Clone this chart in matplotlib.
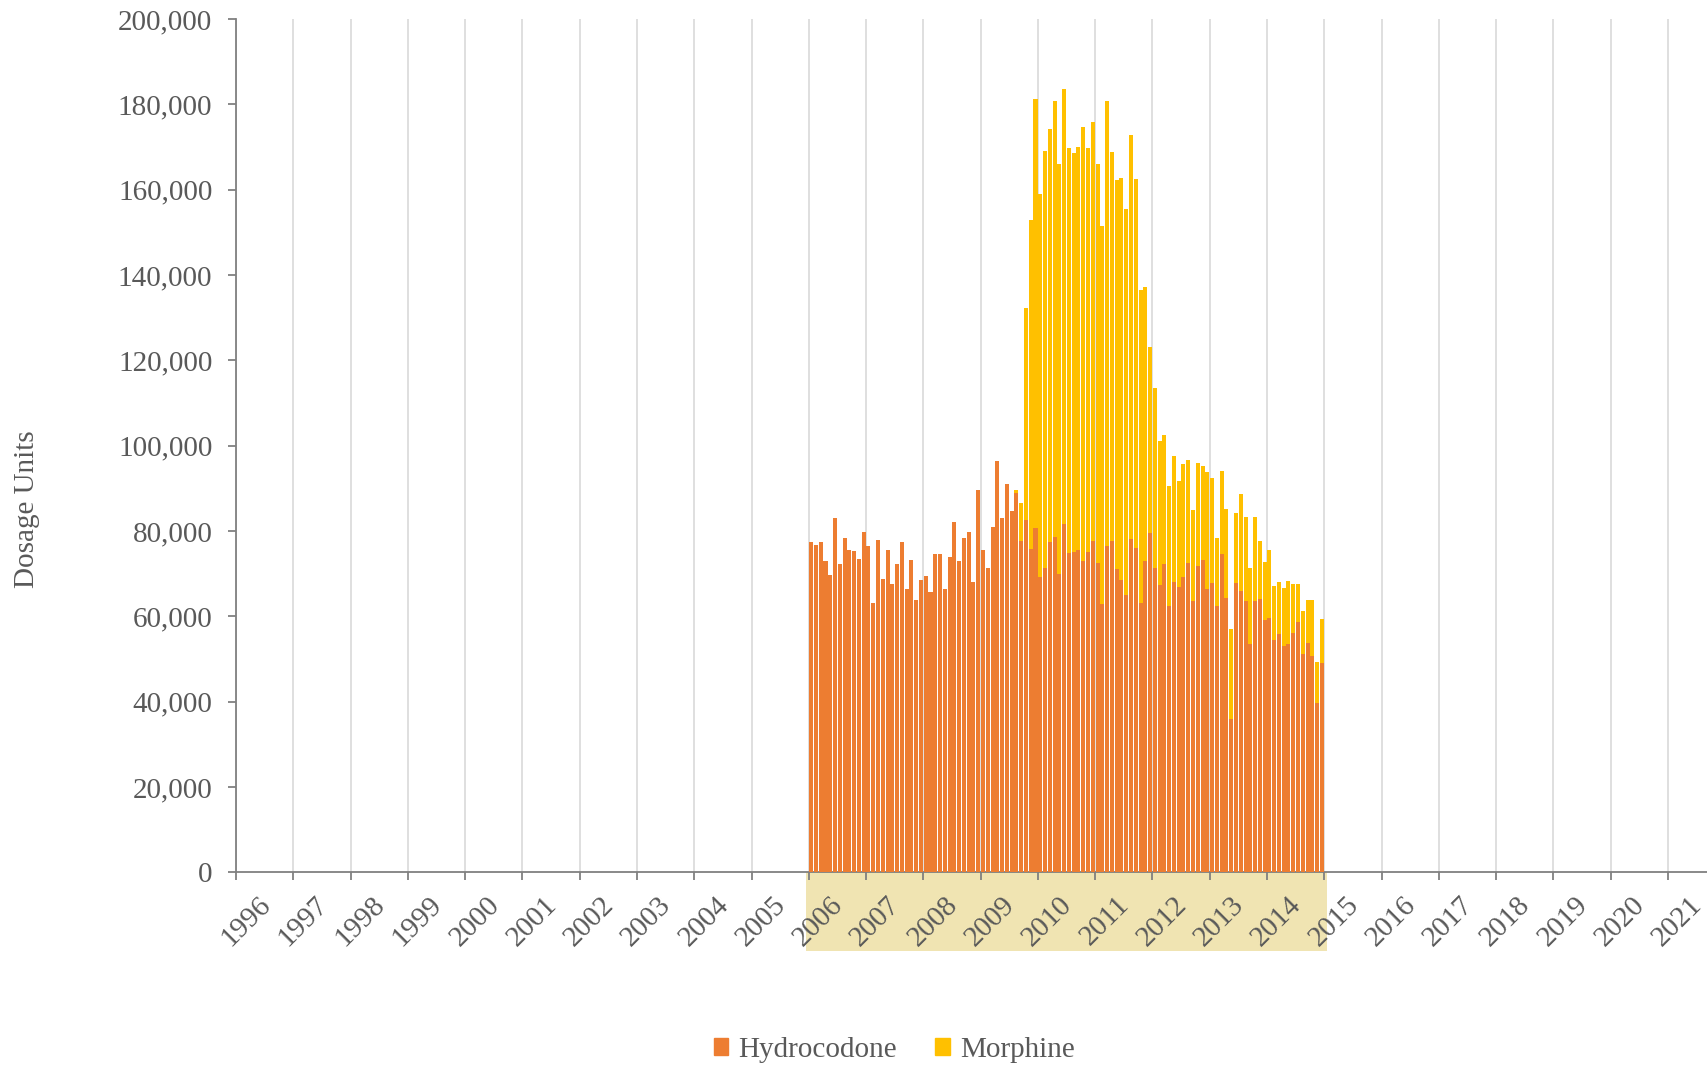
import numpy as np
import matplotlib
matplotlib.use('Agg')
import matplotlib.pyplot as plt
import matplotlib.transforms as mtransforms
from matplotlib.patches import Rectangle, Patch
from matplotlib.ticker import FuncFormatter

# monthly dosage units, Jan 2006 - Dec 2014
start_year = 2006
hydrocodone = [
    77300, 76600, 77500, 73000, 69700, 83000, 72300, 78300, 75600, 75300, 73400, 79800,  # 2006
    76500, 63100, 78000, 68700, 75500, 67600, 72300, 77400, 66400, 73300, 63800, 68500,  # 2007
    69400, 65700, 74600, 74600, 66300, 74000, 82200, 72900, 78300, 79800, 68100, 89600,  # 2008
    75600, 71400, 80900, 96400, 83100, 91000, 84700, 89000, 77700, 82500, 75800, 80800,  # 2009
    69100, 71400, 77300, 78500, 70000, 81600, 74800, 75000, 75500, 72900, 75000, 77700,  # 2010
    72400, 62900, 76500, 77700, 71000, 68600, 64900, 78200, 75900, 63200, 72900, 79600,  # 2011
    71300, 67300, 72200, 62300, 68000, 66800, 69300, 72400, 63700, 71700, 73200, 66300,  # 2012
    67700, 62300, 74600, 64200, 36000, 67700, 66000, 63500, 53600, 63700, 64100, 59200,  # 2013
    59600, 54500, 55800, 53000, 53400, 56200, 58700, 51200, 53700, 50700, 39600, 49100,  # 2014
]
morphine = [
    0, 0, 0, 0, 0, 0, 0, 0, 0, 0, 0, 0,
    0, 0, 0, 0, 0, 0, 0, 0, 0, 0, 0, 0,
    0, 0, 0, 0, 0, 0, 0, 0, 0, 0, 0, 0,
    0, 0, 0, 0, 0, 0, 0, 600, 8900, 49700, 77200, 100500,
    90000, 97600, 96900, 102400, 96100, 101900, 94900, 93500, 94500, 101800, 94700, 98200,
    93700, 88600, 104200, 91200, 91200, 94100, 90500, 94600, 86700, 73300, 64300, 43600,
    42100, 33700, 30300, 28200, 29600, 25000, 26300, 24200, 21200, 24200, 22100, 27500,
    24700, 16000, 19500, 20900, 21000, 16500, 22600, 19800, 17800, 19600, 13500, 13600,
    15900, 12500, 12200, 13600, 14900, 11300, 8800, 10100, 10100, 13200, 9800, 10300,
]
tick_years = list(range(1996, 2022))
highlight_years = (2006, 2015)

text_color = '#595959'
plt.rcParams['font.family'] = ['Liberation Serif', 'DejaVu Serif']
plt.rcParams['font.size'] = 20

fig = plt.figure(figsize=(17.08, 10.70), dpi=100)
ax = fig.add_axes([0.1382, 0.1848, 0.8618, 0.7974])

# month positions in fractional years
x = start_year + (np.arange(len(hydrocodone)) + 0.5) / 12
ax.bar(x, hydrocodone, width=0.84 / 12, color='#ED7D31', zorder=3)
ax.bar(x, morphine, width=0.84 / 12, bottom=hydrocodone, color='#FFC000', zorder=3)

ax.set_xlim(1996, 2021.7)
ax.set_ylim(0, 200000)
ax.set_xticks(tick_years)
ax.set_xticklabels([str(y) for y in tick_years], rotation=45, ha='center', va='top')
ax.set_yticks(np.arange(0, 200001, 20000))
ax.yaxis.set_major_formatter(FuncFormatter(lambda v, p: f'{int(v):,}'))

ax.grid(axis='x', color='#d9d9d9', linewidth=1.2, zorder=0)
ax.set_axisbelow(True)
for s in ['top', 'right']:
    ax.spines[s].set_visible(False)
for s in ['left', 'bottom']:
    ax.spines[s].set_color('#808080')
    ax.spines[s].set_linewidth(1.3)
ax.tick_params(axis='both', colors='#808080', labelcolor=text_color, length=6, width=1.3)
ax.tick_params(axis='y', pad=11, labelsize=21)
ax.tick_params(axis='x', pad=8, labelsize=21)

# nudge year labels a little to the right, like the original
shift = mtransforms.ScaledTranslation(7 / 72, 0, fig.dpi_scale_trans)
for lbl in ax.get_xticklabels():
    lbl.set_transform(lbl.get_transform() + shift)

# highlighted period under the axis
trans = mtransforms.blended_transform_factory(ax.transData, ax.transAxes)
band = Rectangle((highlight_years[0] - 0.05, -0.092), highlight_years[1] - highlight_years[0] + 0.1, 0.092,
                 transform=trans, clip_on=False, facecolor='#F0E4B2', edgecolor='none', zorder=0)
ax.add_patch(band)

fig.text(0.0158, 0.5243, 'Dosage Units', rotation=90, ha='center', va='center', color=text_color, fontsize=21)

handles = [Patch(color='#ED7D31'), Patch(color='#FFC000')]
fig.legend(handles, ['Hydrocodone', 'Morphine'], loc='center', bbox_to_anchor=(0.5236, 0.0187), ncol=2,
           frameon=False, fontsize=21, handlelength=0.5, handleheight=0.5, handletextpad=0.35,
           columnspacing=1.3, labelcolor=text_color)

fig.savefig('out.png', dpi=100)
